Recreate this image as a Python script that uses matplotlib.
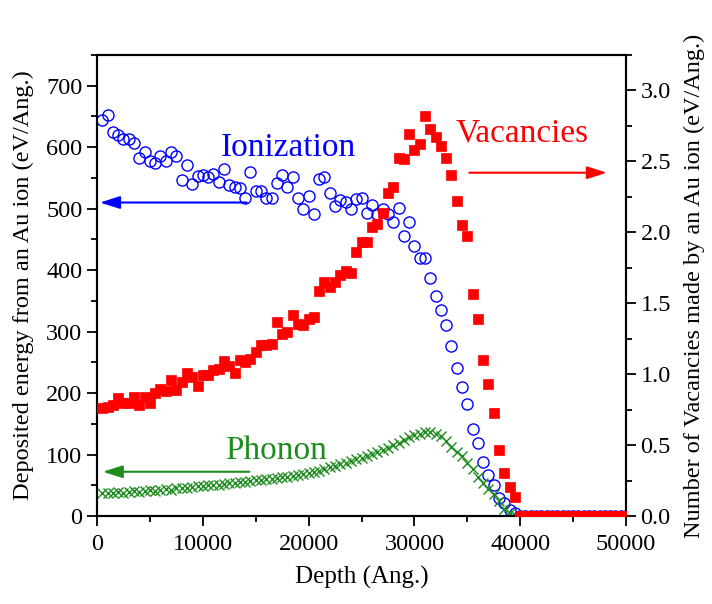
import numpy as np
import matplotlib
matplotlib.use("Agg")
import matplotlib.pyplot as plt
from matplotlib.ticker import MultipleLocator

plt.rcParams['font.family'] = ['Liberation Serif', 'DejaVu Serif']
plt.rcParams['mathtext.fontset'] = 'stix'

# ---- data (depth step 500 Ang.) ----
depth = np.arange(500, 50001, 500)

ionization = [645, 652, 625, 620, 613, 613, 607, 582, 593, 578,
              575, 586, 578, 593, 586, 547, 571, 540, 553, 554,
              551, 557, 544, 564, 538, 535, 533, 518, 559, 528,
              528, 518, 517, 541, 554, 535, 552, 518, 500, 521,
              491, 548, 551, 526, 505, 514, 511, 499, 516, 518,
              493, 506, 492, 499, 491, 479, 501, 456, 479, 440,
              420, 419, 387, 358, 335, 310, 277, 240, 210, 183,
              141, 118, 88, 67, 50, 30, 21, 10, 5] + [0] * 21

phonon = [38, 37, 38, 39, 38, 39, 40, 39, 41, 42,
          41, 43, 44, 43, 45, 46, 45, 47, 48, 49,
          50, 51, 50, 52, 53, 54, 55, 56, 57, 58,
          59, 60, 61, 62, 63, 64, 65, 67, 68, 70,
          72, 74, 76, 79, 82, 85, 87, 90, 92, 95,
          98, 101, 104, 108, 111, 115, 119, 124, 129, 132,
          134, 137, 136, 133, 130, 122, 112, 104, 97, 87,
          76, 64, 53, 44, 36, 24, 12, 5, 1] + [0] * 21

vacancies = [0.76, 0.767, 0.78, 0.834, 0.795, 0.795, 0.837, 0.78, 0.84, 0.795,
             0.865, 0.896, 0.884, 0.96, 0.889, 0.943, 1.006, 0.978, 0.917, 0.994,
             0.994, 1.03, 1.035, 1.095, 1.06, 1.006, 1.10, 1.088, 1.107, 1.159,
             1.206, 1.206, 1.213, 1.37, 1.283, 1.295, 1.417, 1.354, 1.347, 1.387,
             1.40, 1.587, 1.652, 1.615, 1.65, 1.70, 1.725, 1.711, 1.864, 1.934,
             1.934, 2.04, 2.06, 2.135, 2.276, 2.322, 2.527, 2.518, 2.692, 2.581,
             2.623, 2.823, 2.727, 2.675, 2.611, 2.527, 2.405, 2.221, 2.052, 1.975,
             1.566, 1.387, 1.10, 0.931, 0.729, 0.465, 0.301, 0.207, 0.136] + [0.0] * 21

BLUE = '#0000FF'
RED = '#FF0000'
GREEN = '#1E8C1E'

fig = plt.figure(figsize=(7.12, 6.04), dpi=100)
ax = fig.add_axes([97 / 712, (604 - 516) / 604, (626 - 97) / 712, (516 - 55) / 604])
ax2 = ax.twinx()

ax.plot(depth, ionization, linestyle='none', marker='o', ms=8, mfc='none',
        mec=BLUE, mew=1.0, zorder=3)
ax.plot(depth, phonon, linestyle='none', marker='x', ms=7, mec=GREEN, mew=1.0, zorder=3)
ax2.plot(depth, vacancies, linestyle='none', marker='s', ms=6.5, mfc=RED, mec=RED,
         mew=0.5, zorder=3)

ax.set_xlim(0, 50000)
ax.set_ylim(0, 750)
ax2.set_ylim(0, 3.25)

ax.xaxis.set_major_locator(MultipleLocator(10000))
ax.xaxis.set_minor_locator(MultipleLocator(5000))
ax.yaxis.set_major_locator(MultipleLocator(100))
ax.yaxis.set_minor_locator(MultipleLocator(50))
ax2.yaxis.set_major_locator(MultipleLocator(0.5))
ax2.yaxis.set_minor_locator(MultipleLocator(0.25))
ax2.yaxis.set_major_formatter(matplotlib.ticker.FormatStrFormatter('%.1f'))

for a in (ax, ax2):
    for s in a.spines.values():
        s.set_linewidth(1.5)
    a.tick_params(which='major', direction='out', length=7, width=1.3, labelsize=17.5)
    a.tick_params(which='minor', direction='out', length=4, width=1.3)
ax.tick_params(axis='x', pad=6)

ax.set_xlabel('Depth (Ang.)', fontsize=18, labelpad=8)
ax.set_ylabel('Deposited energy from an Au ion (eV/Ang.)', fontsize=17.5, labelpad=9)
ax2.set_ylabel('Number of Vacancies made by an Au ion (eV/Ang.)', fontsize=17.5, labelpad=9)

ax.text(18050, 585, 'Ionization', color=BLUE, fontsize=24, ha='center', va='baseline')
ax.text(40170, 610, 'Vacancies', color=RED, fontsize=24, ha='center', va='baseline')
ax.text(16900, 93, 'Phonon', color=GREEN, fontsize=24, ha='center', va='baseline')

def arrow(a, tip, start, color):
    a.annotate('', xy=tip, xytext=start,
               arrowprops=dict(arrowstyle='-|>,head_length=1.2,head_width=0.38',
                               mutation_scale=10, color=color, lw=1.5,
                               shrinkA=0, shrinkB=0), zorder=4)

arrow(ax, (280, 510), (14150, 510), BLUE)
arrow(ax, (540, 72), (14400, 72), GREEN)
arrow(ax, (48200, 558.5), (35190, 558.5), RED)

fig.savefig('out.png', dpi=100)
